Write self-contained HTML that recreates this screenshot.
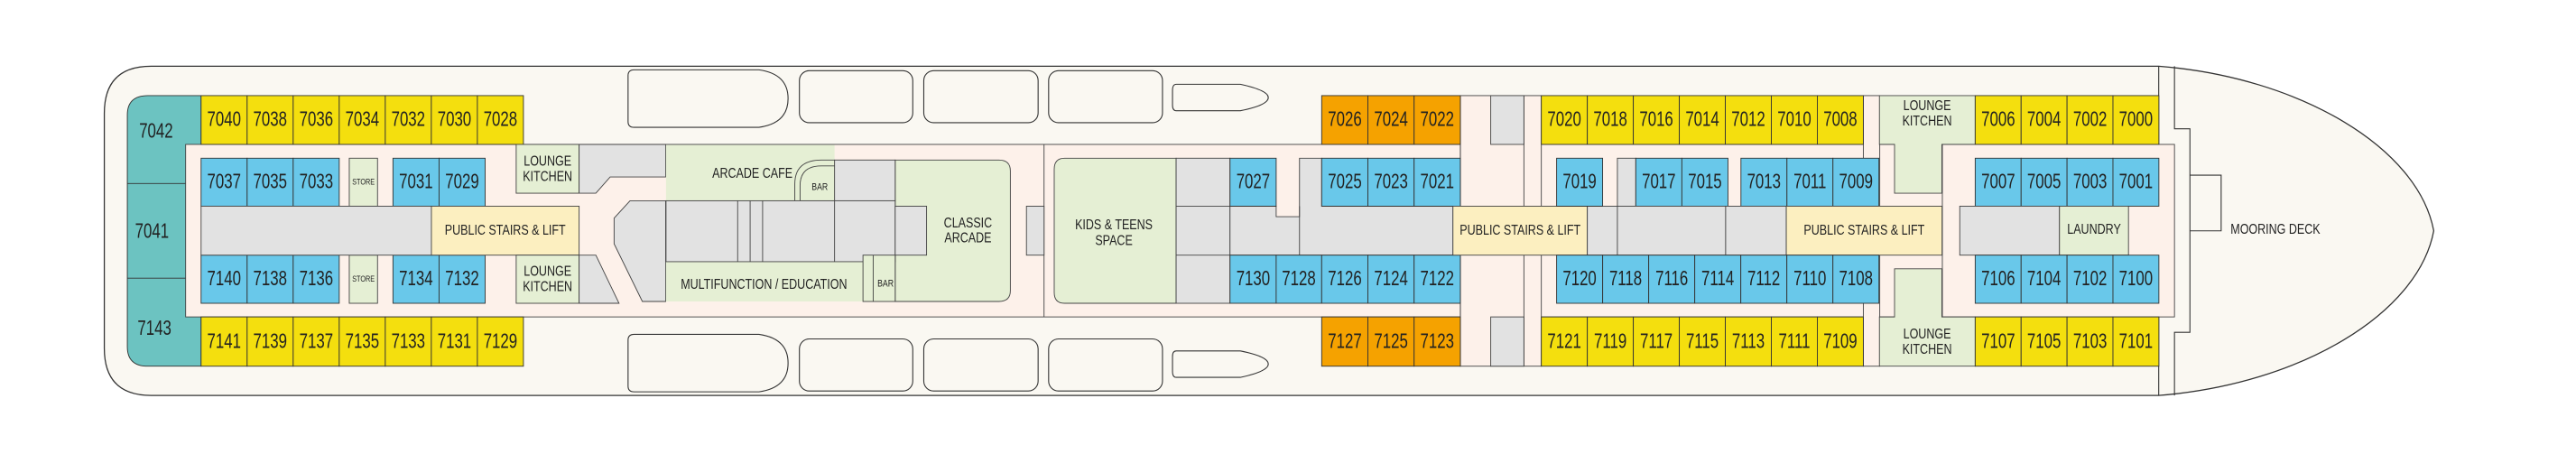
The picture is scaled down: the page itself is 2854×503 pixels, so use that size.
<!DOCTYPE html>
<html><head><meta charset="utf-8"><style>
html,body{margin:0;padding:0;background:#fff;}
svg{display:block;}
text{font-family:"Liberation Sans Narrow","Liberation Sans",sans-serif;fill:#222;}
.n{font-size:12.5px;text-anchor:middle;dominant-baseline:central;transform-box:fill-box;transform-origin:center;transform:scaleX(0.74);}
.l{font-size:8.6px;text-anchor:middle;dominant-baseline:central;transform-box:fill-box;transform-origin:center;transform:scaleX(0.8);}
.s{font-size:5px;text-anchor:middle;dominant-baseline:central;transform-box:fill-box;transform-origin:center;transform:scaleX(0.8);}
.y{fill:#f4df0e;stroke:#333;stroke-width:.5}
.b{fill:#69c8ea;stroke:#333;stroke-width:.5}
.o{fill:#f5a200;stroke:#333;stroke-width:.5}
.g{fill:#e2e2e2;stroke:#444;stroke-width:.5}
.gr{fill:#e5efd4;stroke:#444;stroke-width:.5}
.st{fill:#fcefc0;stroke:#444;stroke-width:.5}
.pk{fill:#fdf1ea;stroke:#444;stroke-width:.5}
.bt{fill:#faf8f2;stroke:#333;stroke-width:.6}
</style></head><body>
<svg width="2854" height="503" viewBox="0 0 1568 276.34" preserveAspectRatio="none" xmlns="http://www.w3.org/2000/svg">
<rect x="0" y="0" width="1568" height="276.34" fill="#fff"/>
<!-- hull -->
<path d="M92,40.3 L1314,40.3 C1400,47 1472,90 1481.4,140.5 C1472,191 1400,234 1314,240.7 L92,240.7 Q63.5,240.7 63.5,212 L63.5,69 Q63.5,40.3 92,40.3 Z" fill="#faf8f2" stroke="#333" stroke-width=".7"/>
<line x1="1314" y1="40.3" x2="1314" y2="240.7" stroke="#333" stroke-width=".6"/>
<polyline points="1323.6,40.3 1323.6,78.4 1333,78.4 1333,202.3 1323.6,202.3 1323.6,240.7" fill="none" stroke="#333" stroke-width=".6"/>
<polyline points="1333,106.6 1352,106.6 1352,140.5 1333,140.5" fill="none" stroke="#333" stroke-width=".6"/>
<text class="l" x="1385" y="140">MOORING DECK</text>

<!-- lifeboats top -->
<path class="bt" d="M386,42.5 L462,42.5 Q479.7,45 479.7,60 Q479.7,75 462,77.5 L386,77.5 Q382.3,77.5 382.3,74 L382.3,46 Q382.3,42.5 386,42.5 Z"/>
<rect class="bt" x="486.6" y="43" width="69" height="31.7" rx="6"/>
<rect class="bt" x="562.3" y="43" width="69.6" height="31.7" rx="6"/>
<rect class="bt" x="638.3" y="43" width="69.3" height="31.7" rx="6"/>
<path class="bt" d="M716,51.3 L755,51.3 Q772,55 772,59.4 Q772,64 755,67.4 L716,67.4 Q713.7,67.4 713.7,64 L713.7,55 Q713.7,51.3 716,51.3 Z"/>
<!-- lifeboats bottom -->
<path class="bt" d="M386,203.5 L462,203.5 Q479.7,206 479.7,221 Q479.7,236 462,238.5 L386,238.5 Q382.3,238.5 382.3,235 L382.3,207 Q382.3,203.5 386,203.5 Z"/>
<rect class="bt" x="486.6" y="206.3" width="69" height="31.7" rx="6"/>
<rect class="bt" x="562.3" y="206.3" width="69.6" height="31.7" rx="6"/>
<rect class="bt" x="638.3" y="206.3" width="69.3" height="31.7" rx="6"/>
<path class="bt" d="M716,213.6 L755,213.6 Q772,217 772,221.6 Q772,226 755,229.7 L716,229.7 Q713.7,229.7 713.7,226 L713.7,217 Q713.7,213.6 716,213.6 Z"/>

<!-- teal -->
<path d="M122.4,58.2 L90,58.2 Q77.5,58.2 77.5,70 L77.5,211 Q77.5,222.9 90,222.9 L122.4,222.9 Z" fill="#6cc3c1" stroke="#333" stroke-width=".5"/>
<line x1="77.5" y1="111.7" x2="113" y2="111.7" stroke="#333" stroke-width=".5"/>
<line x1="77.5" y1="169.3" x2="113" y2="169.3" stroke="#333" stroke-width=".5"/>
<text class="n" x="95" y="80">7042</text>
<text class="n" x="92.5" y="141">7041</text>
<text class="n" x="94" y="200">7143</text>

<!-- pink corridor areas -->
<rect class="pk" x="113" y="87.9" width="1069.3" height="105"/>
<rect class="pk" x="888.9" y="58.2" width="49.3" height="164.7" stroke="none"/>
<line x1="888.9" y1="58.2" x2="888.9" y2="222.9" stroke="#444" stroke-width=".5"/>
<line x1="927.6" y1="58.2" x2="927.6" y2="222.9" stroke="#444" stroke-width=".5"/>
<rect class="pk" x="1134.2" y="58.2" width="10" height="164.7" stroke="none"/>
<line x1="635.5" y1="87.9" x2="635.5" y2="192.9" stroke="#444" stroke-width=".5"/>
<rect class="pk" x="1182.3" y="87.9" width="141.3" height="105"/>
<rect class="g" x="907.4" y="58.2" width="20.2" height="29.7"/>
<rect class="g" x="907.4" y="192.9" width="20.2" height="30"/>

<!-- left block rooms -->
<g>
<rect class="y" x="122.4" y="58.2" width="28.03" height="29.7"/><rect class="y" x="150.43" y="58.2" width="28.03" height="29.7"/><rect class="y" x="178.46" y="58.2" width="28.03" height="29.7"/><rect class="y" x="206.49" y="58.2" width="28.03" height="29.7"/><rect class="y" x="234.52" y="58.2" width="28.03" height="29.7"/><rect class="y" x="262.55" y="58.2" width="28.03" height="29.7"/><rect class="y" x="290.58" y="58.2" width="28.03" height="29.7"/>
<text class="n" x="136.4" y="73">7040</text><text class="n" x="164.4" y="73">7038</text><text class="n" x="192.5" y="73">7036</text><text class="n" x="220.5" y="73">7034</text><text class="n" x="248.5" y="73">7032</text><text class="n" x="276.6" y="73">7030</text><text class="n" x="304.6" y="73">7028</text>
<rect class="y" x="122.4" y="192.9" width="28.03" height="30"/><rect class="y" x="150.43" y="192.9" width="28.03" height="30"/><rect class="y" x="178.46" y="192.9" width="28.03" height="30"/><rect class="y" x="206.49" y="192.9" width="28.03" height="30"/><rect class="y" x="234.52" y="192.9" width="28.03" height="30"/><rect class="y" x="262.55" y="192.9" width="28.03" height="30"/><rect class="y" x="290.58" y="192.9" width="28.03" height="30"/>
<text class="n" x="136.4" y="208">7141</text><text class="n" x="164.4" y="208">7139</text><text class="n" x="192.5" y="208">7137</text><text class="n" x="220.5" y="208">7135</text><text class="n" x="248.5" y="208">7133</text><text class="n" x="276.6" y="208">7131</text><text class="n" x="304.6" y="208">7129</text>

<rect class="b" x="122.4" y="96.3" width="28.03" height="29.2"/><rect class="b" x="150.43" y="96.3" width="28.03" height="29.2"/><rect class="b" x="178.46" y="96.3" width="28.03" height="29.2"/>
<rect class="b" x="239.2" y="96.3" width="28.05" height="29.2"/><rect class="b" x="267.25" y="96.3" width="28.05" height="29.2"/>
<text class="n" x="136.4" y="110.9">7037</text><text class="n" x="164.4" y="110.9">7035</text><text class="n" x="192.5" y="110.9">7033</text><text class="n" x="253.2" y="110.9">7031</text><text class="n" x="281.3" y="110.9">7029</text>
<rect class="gr" x="212.6" y="96.3" width="17.2" height="29.2"/><text class="s" x="221.2" y="110.9">STORE</text>
<rect class="b" x="122.4" y="155.3" width="28.03" height="29.3"/><rect class="b" x="150.43" y="155.3" width="28.03" height="29.3"/><rect class="b" x="178.46" y="155.3" width="28.03" height="29.3"/>
<rect class="b" x="239.2" y="155.3" width="28.05" height="29.3"/><rect class="b" x="267.25" y="155.3" width="28.05" height="29.3"/>
<text class="n" x="136.4" y="170">7140</text><text class="n" x="164.4" y="170">7138</text><text class="n" x="192.5" y="170">7136</text><text class="n" x="253.2" y="170">7134</text><text class="n" x="281.3" y="170">7132</text>
<rect class="gr" x="212.6" y="155.3" width="17.2" height="29.3"/><text class="s" x="221.2" y="170">STORE</text>
<rect class="g" x="122.4" y="125.5" width="140.2" height="29.8"/>
<rect class="st" x="262.6" y="125.5" width="89.9" height="29.8"/>
<text class="l" x="307.5" y="140.4">PUBLIC STAIRS &amp; LIFT</text>
<rect class="gr" x="314.2" y="87.9" width="38.3" height="29.7"/>
<text class="l" x="333.3" y="98.3">LOUNGE</text><text class="l" x="333.3" y="107.7">KITCHEN</text>
<polygon class="g" points="352.5,87.9 405.2,87.9 405.2,107.7 371.4,107.7 362.7,117.6 352.5,117.6"/>
<rect class="gr" x="314.2" y="155.3" width="38.3" height="29.3"/>
<text class="l" x="333.3" y="165.3">LOUNGE</text><text class="l" x="333.3" y="174.8">KITCHEN</text>
<polygon class="g" points="352.5,155.3 362.7,155.3 376.8,184.6 352.5,184.6"/>
<polygon class="g" points="383.5,122.2 373.8,132.8 373.8,148.4 391,183.5 405.2,183.5 405.2,122.2"/>
</g>

<!-- arcade -->
<rect x="405.4" y="88.2" width="102.6" height="34" fill="#e5efd4"/>
<text class="l" x="458" y="105.9">ARCADE CAFE</text>
<path d="M483.8,122.2 L483.8,112 Q483.8,97.4 500,97.4 L508,97.4" fill="none" stroke="#444" stroke-width=".5"/>
<path d="M487,122.2 L487,113 Q487,101 500,101 L508,101" fill="none" stroke="#444" stroke-width=".5"/>
<text class="s" x="499" y="114" style="font-size:6px">BAR</text>
<path class="gr" d="M544.9,97.4 L608,97.4 Q615,97.4 615,104 L615,177 Q615,183.5 608,183.5 L544.9,183.5 Z"/>
<text class="l" x="589.2" y="135.9">CLASSIC</text><text class="l" x="589.2" y="145.2">ARCADE</text>
<rect class="g" x="508" y="97.4" width="36.9" height="24.8"/>
<rect class="g" x="405.4" y="122.2" width="139.5" height="37.1"/>
<line x1="449" y1="122.2" x2="449" y2="159.3" stroke="#444" stroke-width=".5"/>
<line x1="456.6" y1="122.2" x2="456.6" y2="159.3" stroke="#444" stroke-width=".5"/>
<line x1="464.2" y1="122.2" x2="464.2" y2="159.3" stroke="#444" stroke-width=".5"/>
<line x1="508" y1="122.2" x2="508" y2="159.3" stroke="#444" stroke-width=".5"/>
<rect class="g" x="544.9" y="125.5" width="19.1" height="29.8"/>
<rect x="405.4" y="159.3" width="119.9" height="24.2" fill="#e5efd4"/>
<line x1="405.4" y1="159.3" x2="544.9" y2="159.3" stroke="#444" stroke-width=".5"/>
<text class="l" x="465" y="173.3">MULTIFUNCTION / EDUCATION</text>
<rect class="gr" x="525.3" y="155.3" width="19.6" height="28.2"/>
<line x1="531.5" y1="155.3" x2="531.5" y2="183.5" stroke="#444" stroke-width=".5"/>
<text class="s" x="539" y="173" style="font-size:6px">BAR</text>
<rect class="g" x="624.8" y="125.5" width="10.7" height="29.8"/>

<!-- kids -->
<path class="gr" d="M715.9,96.3 L648,96.3 Q641.7,96.3 641.7,103 L641.7,178 Q641.7,184.6 648,184.6 L715.9,184.6 Z"/>
<text class="l" x="678" y="137">KIDS &amp; TEENS</text><text class="l" x="678" y="146.6">SPACE</text>
<rect class="g" x="715.9" y="96.3" width="32.8" height="88.3"/>
<line x1="715.9" y1="125.5" x2="748.7" y2="125.5" stroke="#444" stroke-width=".5"/>
<line x1="715.9" y1="155.3" x2="748.7" y2="155.3" stroke="#444" stroke-width=".5"/>
<polygon class="g" points="748.7,125.5 776.8,125.5 776.8,131.9 791,131.9 791,96.3 804.5,96.3 804.5,125.5 884.4,125.5 884.4,155.3 748.7,155.3"/>
<line x1="791" y1="125.5" x2="791" y2="155.3" stroke="#444" stroke-width=".5"/>

<!-- mid cabins -->
<rect class="b" x="748.7" y="96.3" width="28.1" height="29.2"/><text class="n" x="762.8" y="110.9">7027</text>
<rect class="o" x="804.5" y="58.2" width="28.13" height="29.7"/><rect class="o" x="832.63" y="58.2" width="28.13" height="29.7"/><rect class="o" x="860.76" y="58.2" width="28.13" height="29.7"/>
<text class="n" x="818.6" y="73">7026</text><text class="n" x="846.7" y="73">7024</text><text class="n" x="874.8" y="73">7022</text>
<rect class="b" x="804.5" y="96.3" width="28.13" height="29.2"/><rect class="b" x="832.63" y="96.3" width="28.13" height="29.2"/><rect class="b" x="860.76" y="96.3" width="28.13" height="29.2"/>
<text class="n" x="818.6" y="110.9">7025</text><text class="n" x="846.7" y="110.9">7023</text><text class="n" x="874.8" y="110.9">7021</text>
<rect class="b" x="748.7" y="155.3" width="28.1" height="29.3"/><rect class="b" x="776.8" y="155.3" width="27.7" height="29.3"/>
<rect class="b" x="804.5" y="155.3" width="28.13" height="29.3"/><rect class="b" x="832.63" y="155.3" width="28.13" height="29.3"/><rect class="b" x="860.76" y="155.3" width="28.13" height="29.3"/>
<text class="n" x="762.8" y="170">7130</text><text class="n" x="790.6" y="170">7128</text><text class="n" x="818.6" y="170">7126</text><text class="n" x="846.7" y="170">7124</text><text class="n" x="874.8" y="170">7122</text>
<rect class="o" x="804.5" y="192.9" width="28.13" height="30"/><rect class="o" x="832.63" y="192.9" width="28.13" height="30"/><rect class="o" x="860.76" y="192.9" width="28.13" height="30"/>
<text class="n" x="818.6" y="208">7127</text><text class="n" x="846.7" y="208">7125</text><text class="n" x="874.8" y="208">7123</text>
<rect class="st" x="884.4" y="125.5" width="81.8" height="29.8"/>
<text class="l" x="925.3" y="140.4">PUBLIC STAIRS &amp; LIFT</text>
<rect class="g" x="966.2" y="125.5" width="18.3" height="29.8"/>

<!-- right middle -->
<g>
<rect class="y" x="938.2" y="58.2" width="28" height="29.7"/><rect class="y" x="966.2" y="58.2" width="28" height="29.7"/><rect class="y" x="994.2" y="58.2" width="28" height="29.7"/><rect class="y" x="1022.2" y="58.2" width="28" height="29.7"/><rect class="y" x="1050.2" y="58.2" width="28" height="29.7"/><rect class="y" x="1078.2" y="58.2" width="28" height="29.7"/><rect class="y" x="1106.2" y="58.2" width="28" height="29.7"/>
<text class="n" x="952.2" y="73">7020</text><text class="n" x="980.2" y="73">7018</text><text class="n" x="1008.2" y="73">7016</text><text class="n" x="1036.2" y="73">7014</text><text class="n" x="1064.2" y="73">7012</text><text class="n" x="1092.2" y="73">7010</text><text class="n" x="1120.2" y="73">7008</text>
<rect class="y" x="938.2" y="192.9" width="28" height="30"/><rect class="y" x="966.2" y="192.9" width="28" height="30"/><rect class="y" x="994.2" y="192.9" width="28" height="30"/><rect class="y" x="1022.2" y="192.9" width="28" height="30"/><rect class="y" x="1050.2" y="192.9" width="28" height="30"/><rect class="y" x="1078.2" y="192.9" width="28" height="30"/><rect class="y" x="1106.2" y="192.9" width="28" height="30"/>
<text class="n" x="952.2" y="208">7121</text><text class="n" x="980.2" y="208">7119</text><text class="n" x="1008.2" y="208">7117</text><text class="n" x="1036.2" y="208">7115</text><text class="n" x="1064.2" y="208">7113</text><text class="n" x="1092.2" y="208">7111</text><text class="n" x="1120.2" y="208">7109</text>
<rect class="b" x="947.5" y="96.3" width="28" height="29.2"/><text class="n" x="961.5" y="110.9">7019</text>
<rect class="g" x="984.5" y="96.3" width="11.2" height="29.2"/>
<rect class="b" x="995.7" y="96.3" width="28.05" height="29.2"/><rect class="b" x="1023.75" y="96.3" width="28.05" height="29.2"/>
<text class="n" x="1009.7" y="110.9">7017</text><text class="n" x="1037.8" y="110.9">7015</text>
<rect class="b" x="1059.7" y="96.3" width="28" height="29.2"/><rect class="b" x="1087.7" y="96.3" width="28" height="29.2"/><rect class="b" x="1115.7" y="96.3" width="28" height="29.2"/>
<text class="n" x="1073.7" y="110.9">7013</text><text class="n" x="1101.7" y="110.9">7011</text><text class="n" x="1129.7" y="110.9">7009</text>
<rect class="g" x="984.5" y="125.5" width="65.9" height="29.8"/><rect class="g" x="1050.4" y="125.5" width="36.9" height="29.8"/>
<rect class="st" x="1087.3" y="125.5" width="94.8" height="29.8"/>
<text class="l" x="1134.7" y="140.4">PUBLIC STAIRS &amp; LIFT</text>
<rect class="b" x="947.5" y="155.3" width="28.03" height="29.3"/><rect class="b" x="975.53" y="155.3" width="28.03" height="29.3"/><rect class="b" x="1003.56" y="155.3" width="28.03" height="29.3"/><rect class="b" x="1031.59" y="155.3" width="28.03" height="29.3"/><rect class="b" x="1059.62" y="155.3" width="28.03" height="29.3"/><rect class="b" x="1087.65" y="155.3" width="28.03" height="29.3"/><rect class="b" x="1115.68" y="155.3" width="28.03" height="29.3"/>
<text class="n" x="961.5" y="170">7120</text><text class="n" x="989.5" y="170">7118</text><text class="n" x="1017.6" y="170">7116</text><text class="n" x="1045.6" y="170">7114</text><text class="n" x="1073.6" y="170">7112</text><text class="n" x="1101.7" y="170">7110</text><text class="n" x="1129.7" y="170">7108</text>
<polygon class="gr" points="1144,58.2 1202.3,58.2 1202.3,87.9 1182,87.9 1182,117.6 1153.2,117.6 1153.2,87.9 1144,87.9"/>
<text class="l" x="1173" y="64.5">LOUNGE</text><text class="l" x="1173" y="74">KITCHEN</text>
<polygon class="gr" points="1153.2,163.6 1182,163.6 1182,192.9 1202.3,192.9 1202.3,222.9 1144,222.9 1144,192.9 1153.2,192.9"/>
<text class="l" x="1173" y="203.5">LOUNGE</text><text class="l" x="1173" y="213">KITCHEN</text>
</g>

<!-- fore block -->
<g>
<rect class="y" x="1202.3" y="58.2" width="27.95" height="29.7"/><rect class="y" x="1230.25" y="58.2" width="27.95" height="29.7"/><rect class="y" x="1258.2" y="58.2" width="27.95" height="29.7"/><rect class="y" x="1286.15" y="58.2" width="27.95" height="29.7"/>
<text class="n" x="1216.3" y="73">7006</text><text class="n" x="1244.2" y="73">7004</text><text class="n" x="1272.2" y="73">7002</text><text class="n" x="1300.1" y="73">7000</text>
<rect class="b" x="1202.3" y="96.3" width="27.95" height="29.2"/><rect class="b" x="1230.25" y="96.3" width="27.95" height="29.2"/><rect class="b" x="1258.2" y="96.3" width="27.95" height="29.2"/><rect class="b" x="1286.15" y="96.3" width="27.95" height="29.2"/>
<text class="n" x="1216.3" y="110.9">7007</text><text class="n" x="1244.2" y="110.9">7005</text><text class="n" x="1272.2" y="110.9">7003</text><text class="n" x="1300.1" y="110.9">7001</text>
<rect class="g" x="1192.9" y="125.5" width="60.7" height="29.8"/>
<rect class="gr" x="1253.6" y="125.5" width="42" height="29.8"/>
<text class="l" x="1274.6" y="140">LAUNDRY</text>
<rect class="b" x="1202.3" y="155.3" width="27.95" height="29.3"/><rect class="b" x="1230.25" y="155.3" width="27.95" height="29.3"/><rect class="b" x="1258.2" y="155.3" width="27.95" height="29.3"/><rect class="b" x="1286.15" y="155.3" width="27.95" height="29.3"/>
<text class="n" x="1216.3" y="170">7106</text><text class="n" x="1244.2" y="170">7104</text><text class="n" x="1272.2" y="170">7102</text><text class="n" x="1300.1" y="170">7100</text>
<rect class="y" x="1202.3" y="192.9" width="27.95" height="30"/><rect class="y" x="1230.25" y="192.9" width="27.95" height="30"/><rect class="y" x="1258.2" y="192.9" width="27.95" height="30"/><rect class="y" x="1286.15" y="192.9" width="27.95" height="30"/>
<text class="n" x="1216.3" y="208">7107</text><text class="n" x="1244.2" y="208">7105</text><text class="n" x="1272.2" y="208">7103</text><text class="n" x="1300.1" y="208">7101</text>
</g>
</svg>
</body></html>
